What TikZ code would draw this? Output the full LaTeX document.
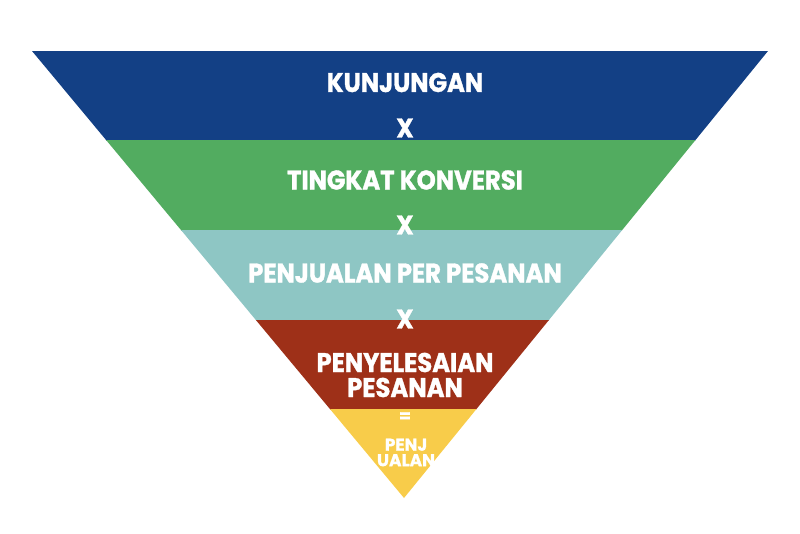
\documentclass[tikz,border=0pt]{standalone}
\usepackage{fontspec}
\setmainfont{Poppins}
\newfontfamily\bandfont{Poppins}[UprightFont=* Bold, FakeStretch=0.9, FakeBold=1.2]
\newfontfamily\tipfont{Poppins}[UprightFont=* Bold, FakeBold=1]
\definecolor{bandblue}{RGB}{19,64,133}
\definecolor{bandgreen}{RGB}{82,172,96}
\definecolor{bandteal}{RGB}{142,198,196}
\definecolor{bandred}{RGB}{158,48,24}
\definecolor{bandyellow}{RGB}{248,204,74}
\tikzset{
  lbl/.style={text=white, inner sep=0pt, align=center, font=\bandfont\fontsize{27}{23}\selectfont},
  op/.style={text=white, inner sep=0pt, font=\bandfont\fontsize{27}{27}\selectfont},
  small/.style={text=white, inner sep=0pt, align=center, font=\tipfont\fontsize{17}{15.5}\selectfont}
}
\begin{document}
\begin{tikzpicture}[x=1pt,y=-1pt]
    \useasboundingbox (0,0) rectangle (800,533);
    % Funnel bands
    \begin{scope}
        \clip (32,51) -- (768,51) -- (404,498) -- cycle;
        \fill[bandblue] (0,51) rectangle (800,140.5);
        \fill[bandgreen] (0,140) rectangle (800,230.5);
        \fill[bandteal] (0,230) rectangle (800,320.5);
        \fill[bandred] (0,320) rectangle (800,409.5);
        \fill[bandyellow] (0,409) rectangle (800,500);
    \end{scope}
    
    % Labels
    \node[lbl] (visits) at (405,82.5) {KUNJUNGAN};
    \node[op] (times1) at (405,128) {X};
    \node[lbl] (conv) at (405,180) {TINGKAT KONVERSI};
    \node[op] (times2) at (405,225) {X};
    \node[lbl] (order) at (405,273) {PENJUALAN PER PESANAN};
    \node[op] (times3) at (405,319) {X};
    \node[lbl] (fulfil) at (405,362.5) {PENYELESAIAN};
    \node[lbl] (fulfilb) at (405,387.5) {PESANAN};
    \node[small] (equals) at (405,417) {=};
    \node[small] (sales) at (406,452.5) {PENJ\\UALAN};
\end{tikzpicture}
\end{document}
